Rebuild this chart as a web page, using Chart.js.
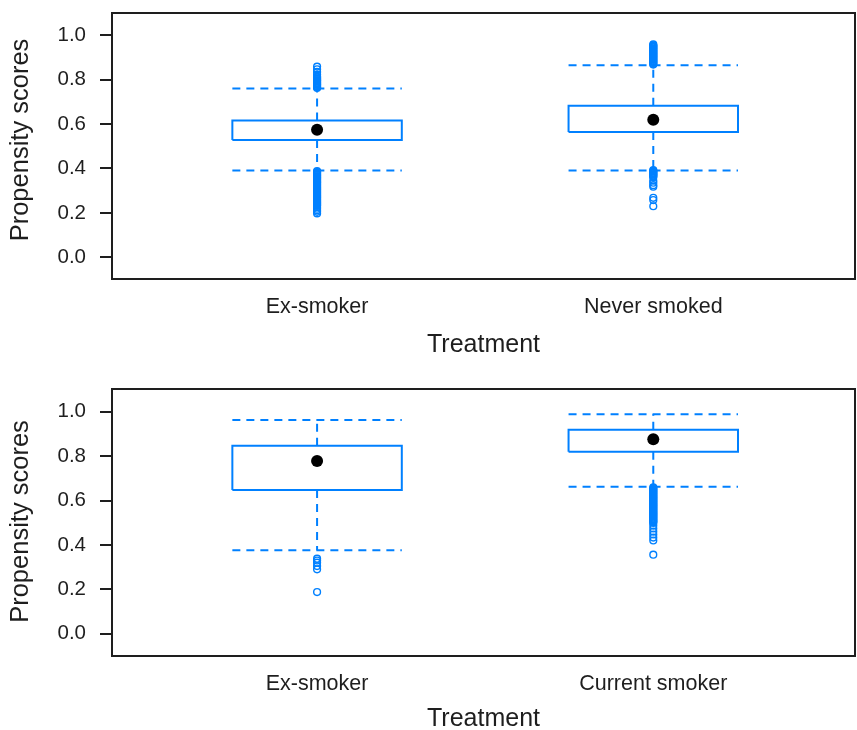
<!DOCTYPE html>
<html>
<head>
<meta charset="utf-8">
<script src="https://cdn.jsdelivr.net/npm/chart.js@4/dist/chart.umd.min.js"></script>
<style>
  html, body { margin: 0; padding: 0; background: #fff; width: 857px; height: 730px; overflow: hidden; }
  .panel { position: absolute; left: 0; width: 857px; overflow: hidden; }
  #c1wrap { top: 0; height: 365px; }
  #c2wrap { top: 370px; height: 360px; }
</style>
</head>
<body>
<div id="c1wrap" class="panel"><canvas id="c1" width="861" height="365"></canvas></div>
<div id="c2wrap" class="panel"><canvas id="c2" width="861" height="365"></canvas></div>
<script>
// ---------- DATA ----------
const yTicks = [0.0, 0.2, 0.4, 0.6, 0.8, 1.0];
const yTitle = 'Propensity scores';
const xTitle = 'Treatment';

// Panel 1: Ex-smoker vs Never smoked
const categoriesTop = ['Ex-smoker', 'Never smoked'];
const q1Top  = [0.528, 0.564];
const medTop = [0.574, 0.619];
const q3Top  = [0.616, 0.682];
const loTop  = [0.391, 0.391];
const hiTop  = [0.759, 0.864];
const outTopEx = [0.762,0.765,0.769,0.772,0.776,0.779,0.783,0.786,0.790,0.794,0.797,0.801,0.805,0.809,0.813,0.822,0.834,0.846,0.858,
  0.388,0.384,0.381,0.377,0.373,0.370,0.366,0.362,0.358,0.355,0.351,0.347,0.343,0.339,0.336,0.332,0.328,0.324,0.320,0.316,
  0.312,0.308,0.304,0.300,0.296,0.292,0.288,0.284,0.280,0.276,0.272,0.268,0.264,0.260,0.256,0.252,0.248,0.244,0.240,0.236,
  0.232,0.226,0.219,0.212,0.205,0.198];
const outTopNever = [0.867,0.870,0.874,0.877,0.881,0.884,0.888,0.891,0.895,0.898,0.902,0.905,0.909,0.912,0.916,0.919,0.923,
  0.926,0.930,0.933,0.937,0.940,0.944,0.947,0.951,0.954,0.958,
  0.393,0.389,0.386,0.382,0.379,0.375,0.372,0.368,0.365,0.360,0.345,0.336,0.325,0.318,0.268,0.258,0.230];

// Panel 2: Ex-smoker vs Current smoker
const categoriesBottom = ['Ex-smoker', 'Current smoker'];
const q1Bot  = [0.647, 0.820];
const medBot = [0.778, 0.876];
const q3Bot  = [0.847, 0.918];
const loBot  = [0.376, 0.662];
const hiBot  = [0.963, 0.988];
const outBotEx = [0.338, 0.330, 0.320, 0.305, 0.290, 0.188];
const outBotCurrent = [0.659,0.655,0.651,0.647,0.643,0.639,0.635,0.631,0.627,0.623,0.619,0.615,0.611,0.607,0.603,0.599,
  0.595,0.591,0.587,0.583,0.579,0.575,0.571,0.567,0.563,0.559,0.555,0.551,0.547,0.543,0.539,0.535,0.531,0.527,0.523,
  0.519,0.515,0.511,0.507,0.503,0.499,0.487,0.474,0.460,0.447,0.433,0.420,0.356];

// ---------- STYLE ----------
const BLUE = '#0080ff';
const INK = '#1e1e1e';
const HALF = 0.252;
const FONT = "'Liberation Sans', Arial, sans-serif";
const DASH = [8, 6];

function buildDatasets(q1, med, q3, lo, hi, outs) {
  const meds = [], outl = [], lines = [];
  q1.forEach((_, i) => {
    const x = i + 1;
    meds.push({ data: [{ x: x, y: med[i] }], pointRadius: 6, pointBackgroundColor: '#000', pointBorderColor: '#000',
      pointBorderWidth: 0, showLine: false });
    outl.push({ data: outs[i].map(v => ({ x: x, y: v })), pointRadius: 3.4, pointBorderColor: BLUE,
      pointBackgroundColor: 'rgba(0,0,0,0)', pointBorderWidth: 1.4, showLine: false });
    const dashed = { showLine: true, borderColor: BLUE, borderWidth: 2, borderDash: DASH, pointRadius: 0, fill: false, tension: 0 };
    lines.push(Object.assign({ data: [{ x: x, y: q3[i] }, { x: x, y: hi[i] }] }, dashed));
    lines.push(Object.assign({ data: [{ x: x, y: q1[i] }, { x: x, y: lo[i] }] }, dashed));
    lines.push(Object.assign({ data: [{ x: x - HALF, y: hi[i] }, { x: x + HALF, y: hi[i] }] }, dashed));
    lines.push(Object.assign({ data: [{ x: x - HALF, y: lo[i] }, { x: x + HALF, y: lo[i] }] }, dashed));
    lines.push({ data: [{ x: x - HALF, y: q1[i] }, { x: x + HALF, y: q1[i] }, { x: x + HALF, y: q3[i] },
        { x: x - HALF, y: q3[i] }, { x: x - HALF, y: q1[i] }],
      showLine: true, borderColor: BLUE, borderWidth: 2, pointRadius: 0, fill: false, tension: 0,
      backgroundColor: '#fff' });
  });
  return meds.concat(outl, lines);
}

const framePlugin = {
  id: 'frame',
  afterDraw(chart) {
    const { ctx, chartArea: a } = chart;
    const o = chart.options.plugins.frame || {};
    ctx.save();
    ctx.strokeStyle = INK;
    ctx.lineWidth = 2;
    ctx.strokeRect(a.left, a.top, a.right - a.left, a.bottom - a.top);
    // rotated y-axis title
    ctx.fillStyle = INK;
    ctx.font = '25.5px ' + FONT;
    ctx.textAlign = 'center';
    ctx.textBaseline = 'middle';
    ctx.translate(o.titleX, (a.top + a.bottom) / 2 + o.titleShift);
    ctx.rotate(-Math.PI / 2);
    ctx.fillText(yTitle, 0, 0);
    ctx.restore();
  }
};

function zeroPad(s) { s.paddingTop = 0; s.paddingBottom = 0; s.paddingLeft = 0; s.paddingRight = 0; }

function makeChart(id, cats, datasets, opts) {
  return new Chart(document.getElementById(id), {
    type: 'scatter',
    data: { datasets: datasets },
    plugins: [framePlugin],
    options: {
      responsive: false,
      animation: false,
      devicePixelRatio: 1,
      layout: { padding: { top: opts.padTop, right: 0, left: 0, bottom: 0 } },
      plugins: { legend: { display: false }, tooltip: { enabled: false },
        frame: { titleX: 20.5, titleShift: opts.titleShift } },
      events: [],
      scales: {
        x: {
          type: 'linear', min: 0.39, max: 2.6,
          afterBuildTicks: s => { s.ticks = cats.map((c, i) => ({ value: i + 1 })); },
          ticks: { autoSkip: false, maxRotation: 0, padding: opts.tickPad, color: INK,
            font: { family: FONT, size: 21.5 }, callback: v => cats[Math.round(v) - 1] },
          grid: { display: false, drawTicks: false },
          border: { display: false },
          title: { display: true, text: xTitle, color: INK, font: { family: FONT, size: 25 },
            padding: { top: 0, bottom: opts.titlePad } },
          afterFit: s => { s.height = opts.xHeight; zeroPad(s); }
        },
        y: {
          type: 'linear', min: opts.yMin, max: opts.yMax,
          afterBuildTicks: s => { s.ticks = yTicks.map(v => ({ value: v })); },
          ticks: { padding: 14, color: INK, font: { family: FONT, size: 20.5 }, callback: v => Number(v).toFixed(1) },
          grid: { display: true, drawOnChartArea: false, drawTicks: true, tickLength: 12, color: INK, lineWidth: 2 },
          border: { display: false },
          title: { display: false },
          afterFit: s => { s.width = 112; zeroPad(s); }
        }
      }
    }
  });
}

makeChart('c1', categoriesTop, buildDatasets(q1Top, medTop, q3Top, loTop, hiTop, [outTopEx, outTopNever]),
  { padTop: 13, xHeight: 86, titlePad: 5, tickPad: 15, titleShift: -6, yMin: -0.097, yMax: 1.099 });
makeChart('c2', categoriesBottom, buildDatasets(q1Bot, medBot, q3Bot, loBot, hiBot, [outBotEx, outBotCurrent]),
  { padTop: 19, xHeight: 79, titlePad: 1, tickPad: 15, titleShift: -1, yMin: -0.100, yMax: 1.102 });
</script>
</body>
</html>
